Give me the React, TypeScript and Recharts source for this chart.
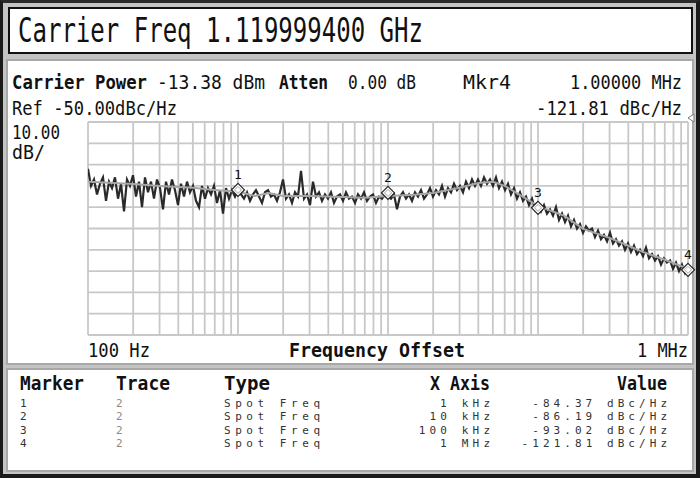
import React from 'react';
import { ComposedChart, Line, XAxis, YAxis, ReferenceLine, ReferenceDot } from 'recharts';

// ---- data ----
const freqStart = 100;
const freqStop = 1000000;
const refLevel = -50;
const bottomLevel = -150;

const gridFreqs = [
  100, 200, 300, 400, 500, 600, 700, 800, 900,
  1000, 2000, 3000, 4000, 5000, 6000, 7000, 8000, 9000,
  10000, 20000, 30000, 40000, 50000, 60000, 70000, 80000, 90000,
  100000, 200000, 300000, 400000, 500000, 600000, 700000, 800000, 900000,
  1000000,
];
const gridLevels = [-50, -60, -70, -80, -90, -100, -110, -120, -130, -140, -150];

// raw trace (trace 1), equally spaced points across the log sweep (201 points)
const traceDb = [
  -72, -80, -77, -84, -79, -76, -87, -78, -81, -76,
  -86, -79, -92, -77, -80, -75, -85, -78, -90, -76,
  -83, -78, -86, -77, -81, -91, -78, -84, -77, -82,
  -89, -79, -85, -78, -83, -80, -87, -90, -80, -86,
  -81, -84, -80, -88, -82, -93, -81, -86, -82, -85,
  -82, -84, -86, -83, -87, -84, -82, -85, -88, -83,
  -82, -85, -84, -87, -83, -77, -86, -84, -88, -83,
  -85, -73, -86, -84, -89, -78, -85, -83, -87, -84,
  -86, -83, -88, -85, -84, -87, -83, -86, -85, -88,
  -84, -86, -83, -87, -85, -84, -88, -85, -86, -84,
  -85, -86, -84, -91, -85, -83, -86, -84, -87, -83,
  -85, -82, -86, -84, -81, -85, -82, -84, -80, -85,
  -81, -83, -79, -82, -80, -83, -78, -81, -77, -80,
  -77, -80, -76, -79, -77, -80, -76, -81, -78, -82,
  -79, -84, -81, -86, -83, -87, -85, -89, -86, -91,
  -89, -92, -89, -93, -91, -94, -90, -96, -93, -97,
  -94, -99, -96, -100, -98, -102, -99, -101, -100, -104,
  -101, -105, -103, -106, -102, -107, -105, -108, -106, -110,
  -107, -111, -108, -112, -110, -113, -109, -114, -112, -115,
  -113, -117, -114, -116, -115, -119, -116, -120, -117, -121,
  -119,
];

// averaged trace (trace 2)
const smoothFreq = [
  100, 150, 200, 300, 500, 700, 1000, 1300, 1600, 2000, 3000, 5000, 7000,
  10000, 15000, 20000, 30000, 40000, 50000, 60000, 70000, 100000, 150000,
  200000, 300000, 400000, 500000, 700000, 1000000,
];
const smoothDb = [
  -78.1, -78.6, -79.1, -80.0, -80.9, -81.9, -82.8, -84.7, -83.3, -84.7, -84.7, -85.2, -85.6,
  -84.7, -84.2, -83.3, -80.9, -78.6, -78.1, -80.0, -82.8, -89.4, -94.1,
  -100.2, -104.4, -108.1, -111.0, -114.7, -118.9,
];

// markers
const markerIds = ['1', '2', '3', '4'];
const markerTrace = ['2', '2', '2', '2'];
const markerType = ['Spot Freq', 'Spot Freq', 'Spot Freq', 'Spot Freq'];
const markerFreq = [1000, 10000, 100000, 1000000];
const markerFreqLabel = ['1 kHz', '10 kHz', '100 kHz', '1 MHz'];
const markerValueLabel = ['-84.37 dBc/Hz', '-86.19 dBc/Hz', '-93.02 dBc/Hz', '-121.81 dBc/Hz'];
const markerPlotDb = [-81.9, -83.3, -90.3, -119.4];

const noisyData = traceDb.map((v, i) => ({ i, v }));
const smoothData = smoothFreq.map((f, k) => ({ f, db: smoothDb[k] }));

const MONO = 'DejaVu Sans Mono, monospace';

type TP = {
  x: number; y: number; s: number; w?: number; b?: boolean; c?: string;
  sp?: boolean; children: string;
};
const T = ({ x, y, s, w, b, c, sp, children }: TP) => (
  <text
    x={x}
    y={y}
    fontSize={s}
    fontFamily={MONO}
    fontWeight={b ? 'bold' : 'normal'}
    fill={c || '#111'}
    textLength={w}
    lengthAdjust={w ? (sp ? 'spacing' : 'spacingAndGlyphs') : undefined}
  >
    {children}
  </text>
);

const Diamond = (props: any) => {
  const { cx, cy } = props;
  if (cx == null || cy == null) return null;
  const r = 6.5;
  return (
    <g>
      <polygon
        points={`${cx},${cy - r} ${cx + r},${cy} ${cx},${cy + r} ${cx - r},${cy}`}
        fill="#fff"
        stroke="#222"
        strokeWidth={1.2}
      />
      <polygon
        points={`${cx},${cy - r + 3} ${cx + r - 3},${cy} ${cx},${cy + r - 3} ${cx - r + 3},${cy}`}
        fill="none"
        stroke="#888"
        strokeWidth={0.8}
      />
    </g>
  );
};

const ROW_ADV = 10.6;

export default function App() {
  return (
    <div style={{ position: 'fixed', left: 0, top: 0, width: 700, height: 478, background: '#c4c4c4', overflow: 'hidden' }}>
      {/* outer dark frame */}
      <div style={{ position: 'absolute', left: 0, top: 0, width: 700, height: 478, boxSizing: 'border-box', borderLeft: '3px solid #1a1a1a', borderTop: '3px solid #2a2a2a', borderRight: '4px solid #1a1a1a', borderBottom: '4px solid #1a1a1a' }} />
      {/* title box */}
      <div style={{ position: 'absolute', left: 8, top: 7, width: 685, height: 47, boxSizing: 'border-box', background: '#fff', border: '2px solid #111' }} />
      {/* graph panel */}
      <div style={{ position: 'absolute', left: 6, top: 59, width: 688, height: 306, boxSizing: 'border-box', background: '#fff', border: '2px solid #a8a8a8' }} />
      {/* table panel */}
      <div style={{ position: 'absolute', left: 6, top: 368, width: 688, height: 104, boxSizing: 'border-box', background: '#fff', border: '2px solid #a8a8a8' }} />

      <div style={{ position: 'absolute', left: 78, top: 112 }}>
        <ComposedChart width={620} height={233} margin={{ top: 10, right: 10, bottom: 10, left: 10 }}>
          <XAxis xAxisId="log" type="number" dataKey="f" scale="log" domain={[freqStart, freqStop]} allowDataOverflow hide />
          <XAxis xAxisId="idx" type="number" dataKey="i" domain={[0, traceDb.length - 1]} allowDataOverflow hide />
          <YAxis type="number" domain={[bottomLevel, refLevel]} allowDataOverflow hide />
          {gridFreqs.map((f) => (
            <ReferenceLine key={'gx' + f} xAxisId="log" x={f} stroke="#c8c8c8" strokeWidth={1.8} />
          ))}
          {gridLevels.map((l) => (
            <ReferenceLine key={'gy' + l} xAxisId="log" y={l} stroke="#c8c8c8" strokeWidth={1.8} />
          ))}
          <Line xAxisId="idx" data={noisyData} dataKey="v" stroke="#2a2a2a" strokeWidth={2.2} strokeLinejoin="miter" dot={false} isAnimationActive={false} />
          <Line xAxisId="log" data={smoothData} dataKey="db" stroke="#a6a6a6" strokeWidth={2} dot={false} isAnimationActive={false} />
          {markerFreq.map((f, k) => (
            <ReferenceDot
              key={'m' + k}
              xAxisId="log"
              x={f}
              y={markerPlotDb[k]}
              r={6.5}
              shape={(p: any) => <Diamond {...p} />}
              label={{ value: markerIds[k], position: 'top', offset: 4, fill: '#111', fontSize: 13, fontFamily: MONO }}
              ifOverflow="visible"
            />
          ))}
        </ComposedChart>
      </div>

      <svg width={700} height={478} style={{ position: 'absolute', left: 0, top: 0, pointerEvents: 'none' }}>
        <T x={18} y={42} s={33} w={405}>Carrier Freq 1.119999400 GHz</T>

        <T x={12} y={89} s={19} w={135} b>Carrier Power</T>
        <T x={157} y={89} s={19} w={108}>-13.38 dBm</T>
        <T x={279} y={89} s={19} w={49} b>Atten</T>
        <T x={348} y={89} s={19} w={68}>0.00 dB</T>
        <T x={463} y={89} s={19} w={48}>Mkr4</T>
        <T x={570} y={89} s={19} w={112}>1.00000 MHz</T>

        <T x={12} y={115} s={19} w={165}>Ref -50.00dBc/Hz</T>
        <T x={536} y={115} s={19} w={146}>-121.81 dBc/Hz</T>

        <T x={12} y={139} s={19} w={48}>10.00</T>
        <T x={12} y={159} s={19} w={33}>dB/</T>

        <polygon points="694,114 688,118 694,122" fill="#fff" stroke="#777" strokeWidth={1} />

        <T x={88} y={357} s={20} w={62}>100 Hz</T>
        <T x={289} y={357} s={20} w={176} b>Frequency Offset</T>
        <T x={637} y={357} s={20} w={51}>1 MHz</T>

        <T x={20} y={390} s={20} w={64} b>Marker</T>
        <T x={116} y={390} s={20} w={54} b>Trace</T>
        <T x={224} y={390} s={20} w={46} b>Type</T>
        <T x={430} y={390} s={20} w={60} b>X Axis</T>
        <T x={617} y={390} s={20} w={50} b>Value</T>

        {markerIds.map((m, k) => {
          const y = 407 + k * 13.4;
          const xl = markerFreqLabel[k];
          const vl = markerValueLabel[k];
          return (
            <g key={'row' + k}>
              <T x={20} y={y} s={11} c="#333">{m}</T>
              <T x={116} y={y} s={11} c="#8a8a8a">{markerTrace[k]}</T>
              <T x={224} y={y} s={11} w={96} sp c="#333">{markerType[k]}</T>
              <T x={490 - xl.length * ROW_ADV + 3} y={y} s={11} w={xl.length * ROW_ADV - 3} sp c="#333">{xl}</T>
              <T x={667 - vl.length * ROW_ADV + 3} y={y} s={11} w={vl.length * ROW_ADV - 3} sp c="#333">{vl}</T>
            </g>
          );
        })}
      </svg>
    </div>
  );
}
